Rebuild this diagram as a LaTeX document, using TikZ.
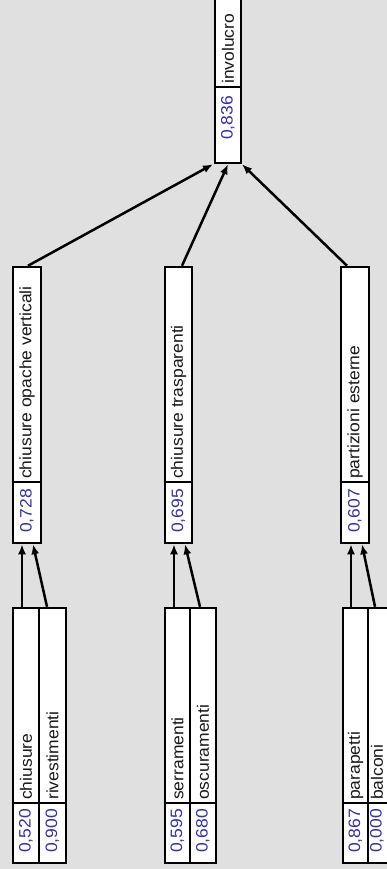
\documentclass[tikz,border=0pt]{standalone}
\usepackage{fontspec}
\setmainfont{Liberation Sans}[FakeStretch=1.06]
\usetikzlibrary{arrows.meta}
\definecolor{bgcol}{RGB}{224,224,224}
\definecolor{valcol}{RGB}{51,51,153}
\definecolor{txtcol}{RGB}{25,25,25}
\begin{document}
\begin{tikzpicture}[x=1pt,y=-1pt,
  box/.style={draw=black, line width=2.5pt, fill=white, inner sep=0pt, rectangle},
  lbl/.style={rotate=90, anchor=west, inner sep=0pt, text=txtcol, font=\fontsize{16.5}{18}\selectfont},
  val/.style={rotate=90, anchor=east, inner sep=0pt, text=valcol, font=\fontsize{16.5}{18}\selectfont},
  conn/.style={line width=2.5pt, -{Latex[length=10pt,width=8pt]}},
  sepline/.style={line width=1.2pt}]
\useasboundingbox (0,0) rectangle (387,869);
\fill[bgcol] (0,0) rectangle (387,869);
\clip (0,0) rectangle (387,869);

% top box
\node[box, minimum width=26pt, minimum height=168pt] (inv) at (228,79) {};
\draw[sepline] (inv.west |- 0,87) -- (inv.east |- 0,87);
\node[lbl] (invl) at (inv.center |- 0,84) {involucro};
\node[val] (invv) at (inv.center |- 0,96) {0,836};

% middle boxes
\node[box, minimum width=28pt, minimum height=276pt] (cov) at (27,405) {};
\node[box, minimum width=27pt, minimum height=276pt] (ctr) at (178.5,405) {};
\node[box, minimum width=28pt, minimum height=276pt] (pe) at (355,405) {};
\foreach \n in {cov,ctr,pe} {\draw[sepline] (\n.west |- 0,482) -- (\n.east |- 0,482);}
\node[lbl] (covl) at (cov.center |- 0,479) {chiusure opache verticali};
\node[val] (covv) at (cov.center |- 0,489) {0,728};
\node[lbl] (ctrl) at (ctr.center |- 0,479) {chiusure trasparenti};
\node[val] (ctrv) at (ctr.center |- 0,489) {0,695};
\node[lbl] (pel) at (pe.center |- 0,479) {partizioni esterne};
\node[val] (pev) at (pe.center |- 0,489) {0,607};

% bottom boxes
\node[box, minimum width=26pt, minimum height=255pt] (chi) at (26,735.5) {};
\node[box, minimum width=27pt, minimum height=255pt] (riv) at (52.5,735.5) {};
\node[box, minimum width=25pt, minimum height=255pt] (ser) at (177.5,735.5) {};
\node[box, minimum width=26pt, minimum height=255pt] (osc) at (203,735.5) {};
\node[box, minimum width=25pt, minimum height=255pt] (par) at (355.5,735.5) {};
\node[box, minimum width=26pt, minimum height=255pt] (bal) at (381,735.5) {};
\foreach \n in {chi,riv,ser,osc,par,bal} {\draw[sepline] (\n.west |- 0,803) -- (\n.east |- 0,803);}
\node[lbl] (chil) at (chi.center |- 0,800) {chiusure};
\node[val] (chiv) at (chi.center |- 0,809) {0,520};
\node[lbl] (rivl) at (riv.center |- 0,800) {rivestimenti};
\node[val] (rivv) at (riv.center |- 0,809) {0,900};
\node[lbl] (serl) at (ser.center |- 0,800) {serramenti};
\node[val] (serv) at (ser.center |- 0,809) {0,595};
\node[lbl] (oscl) at (osc.center |- 0,800) {oscuramenti};
\node[val] (oscv) at (osc.center |- 0,809) {0,680};
\node[lbl] (parl) at (par.center |- 0,800) {parapetti};
\node[val] (parv) at (par.center |- 0,809) {0,867};
\node[lbl] (ball) at ([xshift=-4pt]bal.center |- 0,800) {balconi};
\node[val] (balv) at ([xshift=-4pt]bal.center |- 0,809) {0,000};

% connectors bottom -> middle
\draw[conn] ([xshift=-4pt]chi.north) -- ([xshift=-5pt]cov.south);
\draw[conn] ([xshift=-5.5pt]riv.north) -- ([xshift=6pt]cov.south);
\draw[conn] ([xshift=-3.5pt]ser.north) -- ([xshift=-4.5pt]ctr.south);
\draw[conn] ([xshift=-3pt]osc.north) -- ([xshift=6.5pt]ctr.south);
\draw[conn] ([xshift=-4.5pt]par.north) -- ([xshift=-4pt]pe.south);
\draw[conn] ([xshift=-6pt]bal.north) -- ([xshift=7pt]pe.south);
% connectors middle -> top
\draw[conn] ([xshift=1pt]cov.north) -- ([xshift=-15pt]inv.south);
\draw[conn] ([xshift=3.5pt]ctr.north) -- (inv.south);
\draw[conn] ([xshift=-8pt]pe.north) -- ([xshift=14pt]inv.south);
\end{tikzpicture}
\end{document}
